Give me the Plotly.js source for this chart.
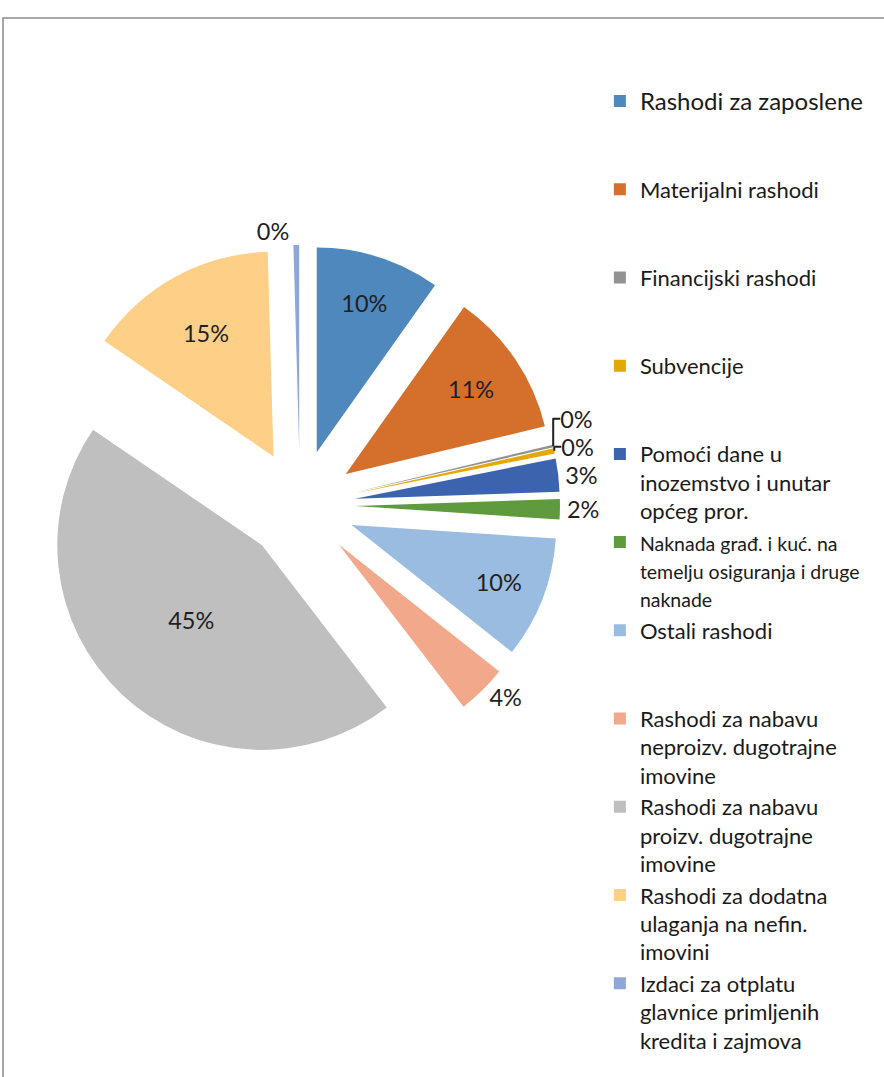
<!DOCTYPE html>
<html>
<head>
<meta charset="utf-8">
<script src="https://cdn.plot.ly/plotly-3.0.1.min.js"></script>
<style>html,body{margin:0;padding:0;background:#fff}#chart{width:884px;height:1077px}</style>
</head>
<body>
<div id="chart"></div>
<script>
const categories = [
  "Rashodi za zaposlene",
  "Materijalni rashodi",
  "Financijski rashodi",
  "Subvencije",
  "Pomoći dane u inozemstvo i unutar općeg pror.",
  "Naknada građ. i kuć. na temelju osiguranja i druge naknade",
  "Ostali rashodi",
  "Rashodi za nabavu neproizv. dugotrajne imovine",
  "Rashodi za nabavu proizv. dugotrajne imovine",
  "Rashodi za dodatna ulaganja na nefin. imovini",
  "Izdaci za otplatu glavnice primljenih kredita i zajmova"
];
const shares = [9.8, 11.45, 0.2, 0.4, 2.6, 1.6, 9.6, 3.9, 44.95, 15.0, 0.45];
const legendLines = [
  [["Rashodi za zaposlene"], 24],
  [["Materijalni rashodi"], 22],
  [["Financijski rashodi"], 22],
  [["Subvencije"], 22],
  [["Pomoći dane u", "inozemstvo i unutar", "općeg pror."], 22],
  [["Naknada građ. i kuć. na", "temelju osiguranja i druge", "naknade"], 19.5],
  [["Ostali rashodi"], 22],
  [["Rashodi za nabavu", "neproizv. dugotrajne", "imovine"], 22],
  [["Rashodi za nabavu", "proizv. dugotrajne", "imovine"], 22],
  [["Rashodi za dodatna", "ulaganja na nefin.", "imovini"], 22],
  [["Izdaci za otplatu", "glavnice primljenih", "kredita i zajmova"], 22]
];
const colors = ["#4F88BC","#D46F2C","#929292","#E4A900","#3C63AD","#5F9A3E","#9BBCE1","#F2A88A","#BFBFBF","#FECF87","#8FA6D9"];
const textPositions = ["inside","inside","outside","outside","outside","outside","inside","outside","inside","inside","outside"];

// legend text: every item takes three lines so the items are evenly spaced
const legendLabels = legendLines.map(function (item) {
  const lines = item[0].slice();
  while (lines.length < 3) lines.push("\u00a0");
  return lines.map(function (t) {
    return '<span style="font-size:' + item[1] + 'px">' + t + '</span>';
  }).join("<br>");
});

const trace = {
  type: "pie",
  labels: legendLabels,
  values: shares,
  customdata: categories,
  sort: false,
  direction: "clockwise",
  rotation: 0,
  pull: 0.27,
  marker: {colors: colors, line: {width: 0}},
  textinfo: "percent",
  texttemplate: "%{percent:.0%}",
  textposition: textPositions,
  insidetextorientation: "horizontal",
  textfont: {family: "Lato, sans-serif", size: 23.5, color: "#1f1f1f"},
  hoverinfo: "none",
  domain: {x: [0.0452, 0.6335], y: [0.2897, 0.7725]}
};

const layout = {
  width: 884, height: 1077,
  margin: {l: 0, r: 0, t: 0, b: 0},
  paper_bgcolor: "#fff",
  showlegend: true,
  legend: {
    x: 0.6786, y: 0.9254, xanchor: "left", yanchor: "top",
    font: {family: "Lato, sans-serif", size: 21.85, color: "#1a1a1a"},
    valign: "top", tracegroupgap: 0, itemclick: false
  },
  shapes: [{
    type: "rect", xref: "paper", yref: "paper",
    x0: 3/884, x1: 1.02, y0: -0.02, y1: 1 - 18/1077,
    line: {color: "#8c8c8c", width: 1.5}
  }]
};

Plotly.newPlot("chart", [trace], layout, {staticPlot: true});
</script>
</body>
</html>
